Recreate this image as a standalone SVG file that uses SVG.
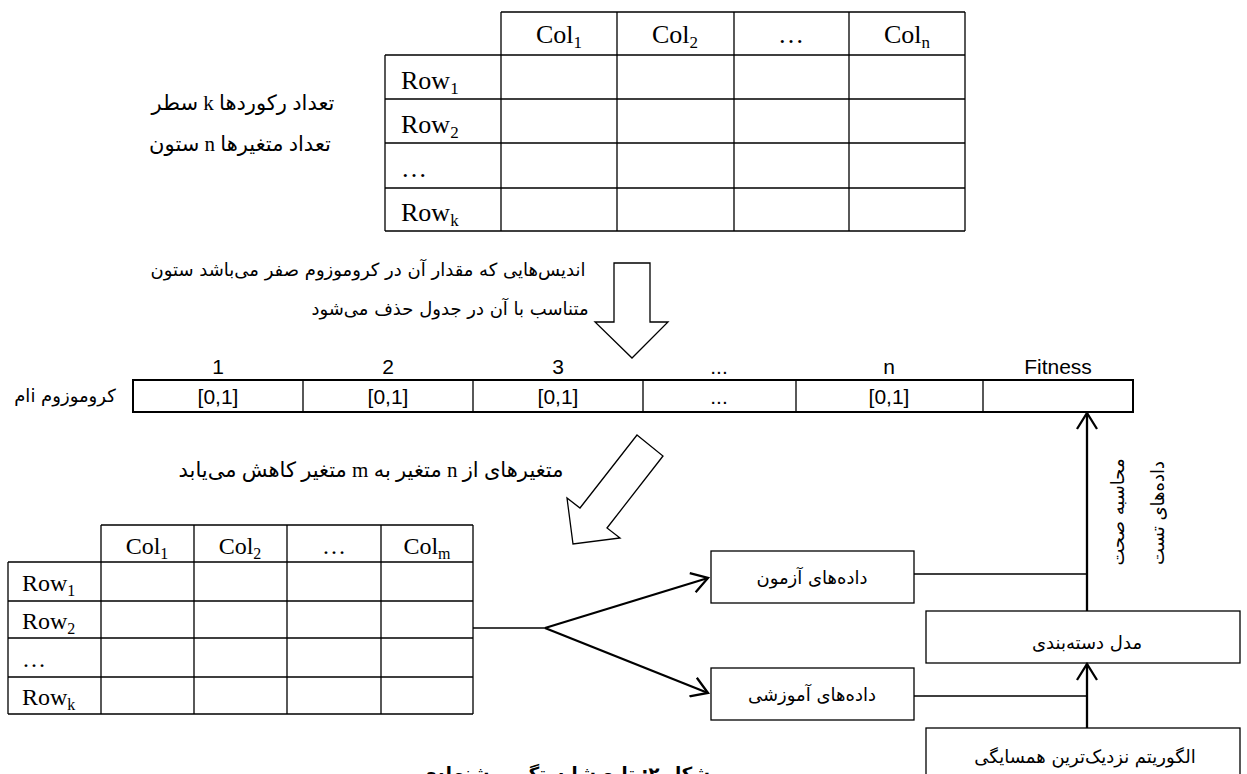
<svg xmlns="http://www.w3.org/2000/svg" width="1247" height="774" viewBox="0 0 1247 774">
<defs>
<style>
.ln{stroke:#000;stroke-width:1.3;fill:none}
.bx{stroke:#000;stroke-width:1.3;fill:#fff}
.thk{stroke:#000;stroke-width:2;fill:#fff}
.con{stroke:#000;stroke-width:2.3;fill:none}
.tt{font-family:"Liberation Serif",serif;fill:#000}
.fa{font-family:"DejaVu Sans",sans-serif;font-size:18px;fill:#000}
.fs{font-family:"Liberation Serif","DejaVu Sans",serif;font-size:21px;fill:#000}
.ch{font-family:"Liberation Sans",sans-serif;font-size:21px;fill:#000}
</style>
<marker id="open" viewBox="0 0 20 22" refX="18" refY="11" markerWidth="20" markerHeight="22" markerUnits="userSpaceOnUse" orient="auto">
<path d="M2,1 L18,11 L2,21" fill="none" stroke="#000" stroke-width="2.3"/>
</marker>
</defs>
<rect width="1247" height="774" fill="#fff"/>

<g id="table-top">
<path class="ln" d="M501,12H965M385,55H965M385,99H965M385,143H965M385,188H965M385,231H965M385,55V231M501,12V231M617,12V231M734,12V231M849,12V231M965,12V231"/>
<g class="tt" font-size="26" text-anchor="middle">
<text x="559" y="43">Col<tspan font-size="17" dy="5">1</tspan></text>
<text x="675" y="43">Col<tspan font-size="17" dy="5">2</tspan></text>
<text x="791" y="43">…</text>
<text x="907" y="43">Col<tspan font-size="17" dy="5">n</tspan></text>
</g>
<g class="tt" font-size="26">
<text x="401" y="89">Row<tspan font-size="17" dy="5">1</tspan></text>
<text x="401" y="133">Row<tspan font-size="17" dy="5">2</tspan></text>
<text x="401" y="177">…</text>
<text x="401" y="221">Row<tspan font-size="17" dy="5">k</tspan></text>
</g>
</g>

<g id="top-note">
<text class="fs" font-size="23" x="243" y="110" text-anchor="middle" direction="rtl">تعداد رکوردها k سطر</text>
<text class="fs" font-size="23" x="240" y="151" text-anchor="middle" direction="rtl">تعداد متغیرها n ستون</text>
</g>

<g id="delete-note">
<text class="fa" font-size="19" x="368" y="276" text-anchor="middle" direction="rtl">اندیس‌هایی که مقدار آن در کروموزوم صفر می‌باشد ستون</text>
<text class="fa" font-size="19" x="450" y="315" text-anchor="middle" direction="rtl">متناسب با آن در جدول حذف می‌شود</text>
</g>

<g id="arrow-down">
<polygon class="bx" points="614,263 650,263 650,322 668,322 632,358 595,322 614,322"/>
</g>

<g id="chromosome">
<rect class="thk" x="133" y="380" width="1000" height="32"/>
<path class="ln" stroke-width="2" d="M303,380V412M473,380V412M643,380V412M796,380V412M983,380V412"/>
<g class="ch" text-anchor="middle">
<text x="218" y="374">1</text>
<text x="388" y="374">2</text>
<text x="558" y="374">3</text>
<text x="719" y="374">...</text>
<text x="889" y="374">n</text>
<text x="1058" y="374">Fitness</text>
<text x="218" y="404">[0,1]</text>
<text x="388" y="404">[0,1]</text>
<text x="558" y="404">[0,1]</text>
<text x="719" y="404">...</text>
<text x="889" y="404">[0,1]</text>
</g>
<text class="fa" x="65" y="402" font-size="15" text-anchor="middle" direction="rtl">کروموزوم iام</text>
</g>

<g id="reduce-note">
<text class="fs" x="371" y="477" text-anchor="middle" direction="rtl">متغیرهای از n متغیر به m متغیر کاهش می‌یابد</text>
</g>

<g id="arrow-diag">
<polygon class="bx" points="637,435 663,456 607,528 620,538 573,544 567,498 580,508"/>
</g>

<g id="table-bottom">
<path class="ln" d="M101,525H473M8,562H473M8,601H473M8,638H473M8,677H473M8,714H473M8,562V714M101,525V714M194,525V714M287,525V714M381,525V714M473,525V714"/>
<g class="tt" font-size="24" text-anchor="middle">
<text x="147" y="554">Col<tspan font-size="16" dy="5">1</tspan></text>
<text x="240" y="554">Col<tspan font-size="16" dy="5">2</tspan></text>
<text x="334" y="554">…</text>
<text x="427" y="554">Col<tspan font-size="16" dy="5">m</tspan></text>
</g>
<g class="tt" font-size="24">
<text x="22" y="591">Row<tspan font-size="16" dy="5">1</tspan></text>
<text x="22" y="629">Row<tspan font-size="16" dy="5">2</tspan></text>
<text x="22" y="667">…</text>
<text x="22" y="705">Row<tspan font-size="16" dy="5">k</tspan></text>
</g>
</g>

<g id="test-data">
<rect class="bx" x="711" y="551" width="203" height="52"/>
<text class="fa" x="812" y="584" text-anchor="middle" direction="rtl">داده‌های آزمون</text>
</g>
<g id="train-data">
<rect class="bx" x="711" y="668" width="203" height="52"/>
<text class="fa" x="812" y="701" text-anchor="middle" direction="rtl">داده‌های آموزشی</text>
</g>
<g id="classifier">
<rect class="bx" x="926" y="611" width="314" height="52"/>
<text class="fa" x="1087" y="649" text-anchor="middle" direction="rtl">مدل دسته‌بندی</text>
</g>
<g id="knn">
<rect class="bx" x="926" y="728" width="314" height="60"/>
<text class="fa" x="1085" y="763" text-anchor="middle" direction="rtl">الگوریتم نزدیک‌ترین همسایگی</text>
</g>

<g id="connectors">
<path class="ln" d="M473,628H545"/>
<path class="con" d="M545,628L708,578" marker-end="url(#open)"/>
<path class="con" d="M545,628L708,693" marker-end="url(#open)"/>
<path class="ln" d="M914,574H1087M914,696H1087"/>
<path class="con" d="M1087,611V413" marker-end="url(#open)"/>
<path class="con" d="M1087,728V664" marker-end="url(#open)"/>
</g>

<g id="accuracy-label">
<text class="fa" font-size="19" transform="translate(1117,512) rotate(-90)" text-anchor="middle" dominant-baseline="central" direction="rtl">محاسبه صحت</text>
<text class="fa" font-size="19" transform="translate(1157,513) rotate(-90)" text-anchor="middle" dominant-baseline="central" direction="rtl">داده‌های تست</text>
</g>

<g id="caption">
<text class="fa" x="565" y="780" font-size="21" font-weight="bold" text-anchor="middle" direction="rtl">شکل ۲: تابع شایستگی پیشنهادی</text>
</g>
</svg>
